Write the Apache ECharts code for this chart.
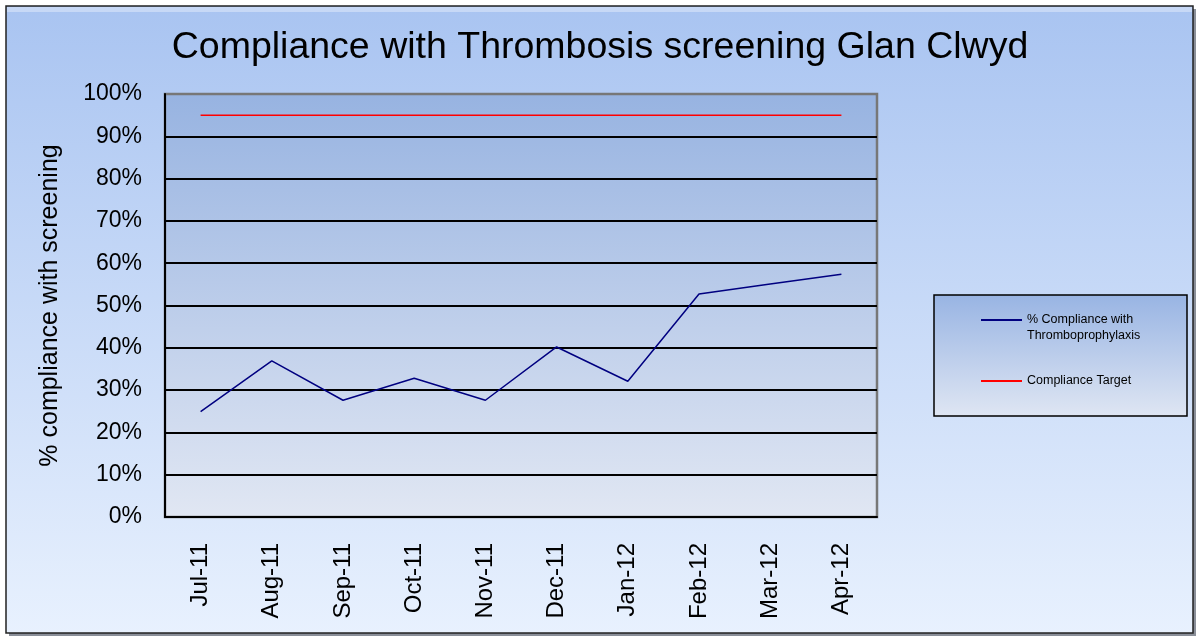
<!DOCTYPE html>
<html>
<head>
<meta charset="utf-8">
<script src="https://cdn.jsdelivr.net/npm/echarts@6/dist/echarts.min.js"></script>
<style>html,body{margin:0;padding:0;background:#fff;}#c{width:1200px;height:639px;}</style>
</head>
<body>
<div id="c"></div>
<script>
const categories = ['Jul-11','Aug-11','Sep-11','Oct-11','Nov-11','Dec-11','Jan-12','Feb-12','Mar-12','Apr-12'];
const complianceValues = [24.9, 36.9, 27.6, 32.8, 27.6, 40.2, 32.1, 52.7, 55.1, 57.4];
const targetValues = [95, 95, 95, 95, 95, 95, 95, 95, 95, 95];
const yTicks = [0,10,20,30,40,50,60,70,80,90,100];
const seriesNames = ['% Compliance with Thromboprophylaxis', 'Compliance Target'];

const chart = echarts.init(document.getElementById('c'), null, {renderer:'canvas'});
const F = 'Arial, "Liberation Sans", sans-serif';
chart.setOption({
  animation: false,
  title: {
    text: 'Compliance with Thrombosis screening Glan Clwyd',
    left: 'center', top: 24,
    textStyle: {fontFamily: F, fontSize: 37.5, fontWeight: 'normal', color: '#000'}
  },
  graphic: [
    {type:'rect', z:-20, silent:true, shape:{x:9, y:9, width:1187, height:627},
     style:{fill:'#8a8f99'}},
    {type:'rect', z:-19, silent:true, shape:{x:6, y:6, width:1187, height:627},
     style:{fill:new echarts.graphic.LinearGradient(0,0,0,1,[{offset:0,color:'#a9c4f1'},{offset:1,color:'#e8f1fe'}]),
            stroke:'#222', lineWidth:1.5}},
    {type:'rect', z:-18, silent:true, shape:{x:7, y:7, width:1185, height:5},
     style:{fill:'rgba(255,255,255,0.35)'}},
    {type:'rect', z:-5, silent:true, shape:{x:934, y:295, width:253, height:121},
     style:{fill:new echarts.graphic.LinearGradient(0,0,0,1,[{offset:0,color:'#98b4e3'},{offset:1,color:'#dfe6f3'}]),
            stroke:'#000', lineWidth:1.5}}
  ],
  legend: {
    orient: 'vertical', left: 981, top: 296, padding: 0, itemGap: 29,
    icon: 'rect', itemWidth: 41, itemHeight: 2,
    textStyle: {fontFamily: F, fontSize: 12.5, color: '#000', lineHeight: 16},
    formatter: function (n) { return n === seriesNames[0] ? '\n% Compliance with\nThromboprophylaxis' : n; },
    data: seriesNames
  },
  grid: {
    left: 165, right: 323, top: 94, bottom: 122,
    show: true, borderWidth: 2.5, borderColor: '#777',
    backgroundColor: new echarts.graphic.LinearGradient(0,0,0,1,[{offset:0,color:'#97b3e1'},{offset:1,color:'#e1e7f3'}])
  },
  xAxis: {
    type: 'category', data: categories, boundaryGap: true,
    axisLine: {show: true, lineStyle: {color: '#000', width: 2}},
    axisTick: {show: false},
    axisLabel: {rotate: 90, margin: 26, fontFamily: F, fontSize: 24, color: '#000'}
  },
  yAxis: {
    type: 'value', min: 0, max: 100, interval: 10,
    name: '% compliance with screening', nameLocation: 'middle', nameGap: 102,
    nameTextStyle: {fontFamily: F, fontSize: 25, color: '#000'},
    axisLine: {show: true, lineStyle: {color: '#000', width: 2}},
    axisTick: {show: false},
    axisLabel: {margin: 23, fontFamily: F, fontSize: 23, color: '#000',
      formatter: function (v) { return yTicks.indexOf(v) >= 0 ? v + '%' : ''; }},
    splitLine: {show: true, showMaxLine: false, lineStyle: {color: '#000', width: 2}}
  },
  series: [
    {name: seriesNames[0], type: 'line', data: complianceValues, symbol: 'none',
     lineStyle: {color: '#000080', width: 1.5}, itemStyle: {color: '#000080'}, z: 3},
    {name: seriesNames[1], type: 'line', data: targetValues, symbol: 'none',
     lineStyle: {color: '#ff0000', width: 1.5}, itemStyle: {color: '#ff0000'}, z: 3}
  ]
});
</script>
</body>
</html>
